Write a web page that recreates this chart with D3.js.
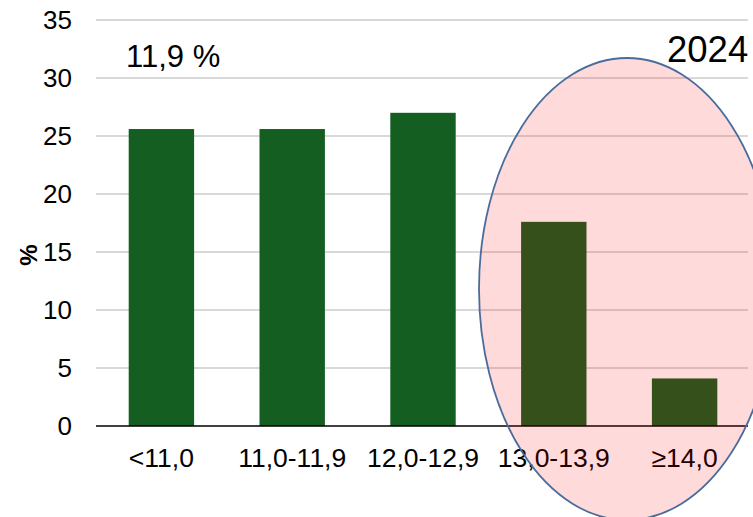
<!DOCTYPE html>
<html>

<head>
  <meta charset="utf-8">
  <title>Chart</title>
  <script src="https://d3js.org/d3.v7.min.js"></script>
  <style>
    body { margin: 0; background: #fff; }
    text { font-family: "Liberation Sans", Arial, sans-serif; }
  </style>
</head>

<body>
  <div id='view'></div>
  <script>
    var categories = ["<11,0", "11,0-11,9", "12,0-12,9", "13,0-13,9", "\u226514,0"];
    var values = [25.6, 25.6, 27.0, 17.6, 4.1];
    var yTicks = [0, 5, 10, 15, 20, 25, 30, 35];

    var width = 753;
    var height = 517;
    var plotLeft = 96, plotRight = 750, plotTop = 20, plotBottom = 426;

    var svg = d3.select("#view")
      .append("svg")
      .attr("width", width)
      .attr("height", height);

    var x = d3.scaleBand()
      .domain(categories)
      .range([plotLeft, plotRight])
      .paddingInner(0.5)
      .paddingOuter(0.25);

    var y = d3.scaleLinear()
      .domain([0, 35])
      .range([plotBottom, plotTop]);

    // gridlines
    svg.append("g")
      .selectAll("line")
      .data(yTicks.slice(1))
      .enter()
      .append("line")
      .attr("x1", plotLeft)
      .attr("x2", 748)
      .attr("y1", function (d) { return y(d); })
      .attr("y2", function (d) { return y(d); })
      .attr("stroke", "#d9d9d9")
      .attr("stroke-width", 2);

    // y tick labels
    svg.append("g")
      .selectAll("text")
      .data(yTicks)
      .enter()
      .append("text")
      .attr("x", 72)
      .attr("y", function (d) { return y(d) + 9; })
      .attr("text-anchor", "end")
      .attr("font-size", 26)
      .attr("fill", "#000")
      .text(function (d) { return d; });

    // bars
    svg.append("g")
      .selectAll("rect")
      .data(values)
      .enter()
      .append("rect")
      .attr("x", function (d, i) { return x(categories[i]); })
      .attr("y", function (d) { return y(d); })
      .attr("width", x.bandwidth())
      .attr("height", function (d) { return y(0) - y(d); })
      .attr("fill", "#135e20");

    // x axis line
    svg.append("line")
      .attr("x1", plotLeft)
      .attr("x2", 748)
      .attr("y1", y(0))
      .attr("y2", y(0))
      .attr("stroke", "#000")
      .attr("stroke-width", 1.5);

    // category labels
    svg.append("g")
      .selectAll("text")
      .data(categories)
      .enter()
      .append("text")
      .attr("x", function (d) { return x(d) + x.bandwidth() / 2; })
      .attr("y", 467)
      .attr("text-anchor", "middle")
      .attr("font-size", 26.5)
      .attr("fill", "#000")
      .text(function (d) { return d; });

    // y axis title
    svg.append("text")
      .attr("transform", "translate(37,255) rotate(-90)")
      .attr("text-anchor", "middle")
      .attr("font-size", 24)
      .attr("font-weight", "bold")
      .text("%");

    // annotations
    svg.append("text")
      .attr("x", 126)
      .attr("y", 67)
      .attr("font-size", 31)
      .text("11,9 %");

    svg.append("text")
      .attr("x", 667)
      .attr("y", 62)
      .attr("font-size", 36.5)
      .text("2024");

    svg.append("ellipse")
      .attr("cx", 627)
      .attr("cy", 289)
      .attr("rx", 148)
      .attr("ry", 231)
      .attr("fill", "rgba(255,0,0,0.145)")
      .attr("stroke", "#4a6c9c")
      .attr("stroke-width", 1.8);
  </script>
</body>

</html>
